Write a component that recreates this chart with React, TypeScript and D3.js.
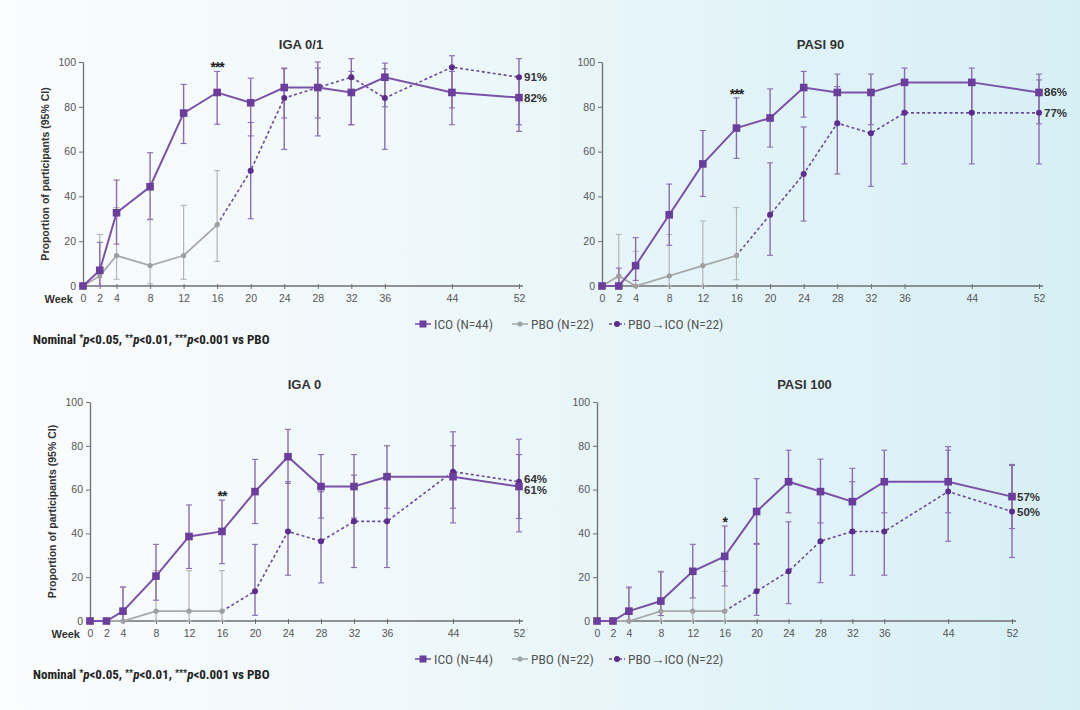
import React, { useEffect, useRef } from 'react';
import * as d3 from 'd3';

// weeks on the x axis
const weeks = [0, 2, 4, 8, 12, 16, 20, 24, 28, 32, 36, 44, 52];
const pboWeeks = [0, 2, 4, 8, 12, 16];
const switchWeeks = [20, 24, 28, 32, 36, 44, 52];
const yTicks = [0, 20, 40, 60, 80, 100];

const titles = ['IGA 0/1', 'PASI 90', 'IGA 0', 'PASI 100'];
const stars = ['***', '***', '**', '*'];
const icoEndLabels = ['82%', '86%', '61%', '57%'];
const switchEndLabels = ['91%', '77%', '64%', '50%'];

// ICO (N=44)
const icoIga01 = [0, 7, 32.7, 44.3, 77.2, 86.4, 81.8, 88.6, 88.6, 86.4, 93.2, 86.4, 84.1];
const icoIga01Lo = [0, 0, 18.7, 29.8, 63.6, 72.2, 67, 75, 75, 72, 80, 72, 69];
const icoIga01Hi = [0, 19.5, 47.3, 59.5, 90, 95.8, 92.8, 97.3, 97.3, 95.8, 99.5, 95.8, 93];
const icoPasi90 = [0, 0, 9.1, 31.8, 54.5, 70.5, 75, 88.6, 86.4, 86.4, 90.9, 90.9, 86.4];
const icoPasi90Lo = [0, 0, 2.5, 18.2, 40, 57, 62, 75.4, 72, 72, 78, 78, 72.4];
const icoPasi90Hi = [0, 8, 21.6, 45.5, 69.4, 84, 88, 95.8, 94.6, 94.6, 97.3, 97.3, 94.6];
const icoIga0 = [0, 0, 4.5, 20.5, 38.6, 40.9, 59.1, 75, 61.4, 61.4, 65.9, 65.9, 61.4];
const icoIga0Lo = [0, 0, 0, 9.5, 24, 26.2, 44.5, 62.8, 47, 47, 51.5, 51.5, 46.8];
const icoIga0Hi = [0, 0, 15.5, 35, 53, 55.2, 73.8, 87.5, 76, 76, 80, 80, 76];
const icoPasi100 = [0, 0, 4.5, 9.1, 22.7, 29.5, 50, 63.6, 59.1, 54.5, 63.6, 63.6, 56.8];
const icoPasi100Lo = [0, 0, 0, 2.5, 10.5, 16, 35.4, 49.4, 44.8, 40, 49.4, 49.4, 42.2];
const icoPasi100Hi = [0, 0, 15.5, 22.4, 35, 43.4, 65, 78, 73.9, 69.7, 78, 78, 71.5];

// PBO (N=22), weeks 0-16
const pboIga01 = [0, 4.5, 13.6, 9.1, 13.6, 27.3];
const pboIga01Lo = [0, 0, 3, 1, 3, 11];
const pboIga01Hi = [0, 23, 35, 29.5, 36, 51.5];
const pboPasi90 = [0, 4.5, 0, 4.5, 9.1, 13.6];
const pboPasi90Lo = [0, 0, 0, 0, 0, 2.8];
const pboPasi90Hi = [0, 23, 15.5, 23, 29, 35];
const pboIga0 = [0, 0, 0, 4.5, 4.5, 4.5];
const pboIga0Lo = [0, 0, 0, 0, 0, 0];
const pboIga0Hi = [0, 0, 15.5, 23, 23, 23];
const pboPasi100 = [0, 0, 0, 4.5, 4.5, 4.5];
const pboPasi100Lo = [0, 0, 0, 0, 0, 0];
const pboPasi100Hi = [0, 0, 15, 22.7, 22.7, 22.7];

// PBO→ICO (N=22), weeks 20-52
const swIga01 = [51.5, 83.9, 88.6, 93.2, 83.9, 97.7, 93.2];
const swIga01Lo = [30, 61, 67, 72, 61, 79.5, 72];
const swIga01Hi = [73, 97, 100, 101.5, 97, 102.8, 101.5];
const swPasi90 = [31.8, 50, 72.7, 68.2, 77.3, 77.3, 77.3];
const swPasi90Lo = [13.7, 29, 50, 44.5, 54.5, 54.5, 54.5];
const swPasi90Hi = [55, 71, 89, 86, 92, 92, 92];
const swIga0 = [13.6, 40.9, 36.4, 45.5, 45.5, 68.2, 63.6];
const swIga0Lo = [2.6, 20.9, 17.4, 24.4, 24.4, 44.8, 40.7];
const swIga0Hi = [35, 63.6, 59, 66.6, 66.6, 86.4, 83];
const swPasi100 = [13.6, 22.7, 36.4, 40.9, 40.9, 59.1, 50];
const swPasi100Lo = [2.6, 7.9, 17.5, 20.9, 20.9, 36.4, 29];
const swPasi100Hi = [35, 45.3, 59, 63.6, 63.6, 79.6, 71];

const icoData = [[icoIga01, icoIga01Lo, icoIga01Hi], [icoPasi90, icoPasi90Lo, icoPasi90Hi], [icoIga0, icoIga0Lo, icoIga0Hi], [icoPasi100, icoPasi100Lo, icoPasi100Hi]];
const pboData = [[pboIga01, pboIga01Lo, pboIga01Hi], [pboPasi90, pboPasi90Lo, pboPasi90Hi], [pboIga0, pboIga0Lo, pboIga0Hi], [pboPasi100, pboPasi100Lo, pboPasi100Hi]];
const swData = [[swIga01, swIga01Lo, swIga01Hi], [swPasi90, swPasi90Lo, swPasi90Hi], [swIga0, swIga0Lo, swIga0Hi], [swPasi100, swPasi100Lo, swPasi100Hi]];

const legendLabels = ['ICO (N=44)', 'PBO (N=22)', 'PBO\u2192ICO (N=22)'];

// plot frames: left/right x, top/bottom y
const frames = [
  { x0: 83, x1: 519, top: 62, bottom: 286, left: true },
  { x0: 602, x1: 1039, top: 62, bottom: 286, left: false },
  { x0: 90, x1: 519, top: 402, bottom: 621, left: true },
  { x0: 597, x1: 1012, top: 402, bottom: 621, left: false },
];

const W = 1080;
const H = 710;
const PURPLE = '#6b3d9c';
const PURPLE_BAR = '#8a6bb0';
const GRAY = '#a9a9a9';
const FONT = '"Liberation Sans", Arial, sans-serif';
const NARROW = '"Liberation Sans Narrow", "Roboto Condensed", "Liberation Sans", sans-serif';

const App: React.FC = () => {
  const svgRef = useRef<SVGSVGElement>(null);

  useEffect(() => {
    if (!svgRef.current) return;
    const svg = d3.select(svgRef.current);
    svg.selectAll('*').remove();

    const grad = svg.append('defs').append('linearGradient').attr('id', 'bg').attr('x1', 0).attr('x2', 1).attr('y1', 0).attr('y2', 0);
    grad.append('stop').attr('offset', '0%').attr('stop-color', '#fbfcfd');
    grad.append('stop').attr('offset', '40%').attr('stop-color', '#eef8fb');
    grad.append('stop').attr('offset', '100%').attr('stop-color', '#d6eff5');
    svg.append('rect').attr('width', W).attr('height', H).attr('fill', 'url(#bg)');

    frames.forEach((f, pi) => {
      const x = d3.scaleLinear().domain([0, 52]).range([f.x0, f.x1]);
      const y = d3.scaleLinear().domain([0, 100]).range([f.bottom, f.top]);
      const g = svg.append('g');

      // title
      g.append('text')
        .attr('x', (f.x0 + f.x1) / 2)
        .attr('y', f.top - 13)
        .attr('text-anchor', 'middle')
        .attr('fill', '#333')
        .style('font-family', FONT)
        .style('font-size', '13px')
        .style('font-weight', 'bold')
        .text(titles[pi]);

      // y axis
      const ya = g.append('g')
        .attr('transform', `translate(${f.x0},0)`)
        .call(d3.axisLeft(y).tickValues(yTicks).tickSize(4).tickSizeOuter(0).tickPadding(3));
      ya.select('.domain').attr('stroke', '#6f6f6f').attr('stroke-width', 1.3);
      ya.selectAll('.tick line').attr('stroke', '#6f6f6f');
      ya.selectAll('.tick text').attr('fill', '#555').style('font-family', FONT).style('font-size', '10.5px');

      // x axis
      const xa = g.append('g')
        .attr('transform', `translate(0,${f.bottom})`)
        .call(d3.axisBottom(x).tickValues(weeks).tickSize(3).tickSizeOuter(0).tickPadding(6));
      xa.select('.domain').remove();
      xa.append('line').attr('x1', f.x0).attr('x2', x(52) + 4).attr('stroke', '#6f6f6f').attr('stroke-width', 1.3);
      xa.selectAll('.tick line').attr('stroke', '#6f6f6f').attr('y1', -2);
      xa.selectAll('.tick text').attr('fill', '#555').style('font-family', FONT).style('font-size', '10.5px');

      if (f.left) {
        g.append('text')
          .attr('x', f.x0 - 10)
          .attr('y', f.bottom + 17)
          .attr('text-anchor', 'end')
          .attr('fill', '#333')
          .style('font-family', FONT)
          .style('font-size', '11px')
          .style('font-weight', 'bold')
          .text('Week');
        g.append('text')
          .attr('transform', `translate(${f.x0 - 34},${(f.top + f.bottom) / 2}) rotate(-90)`)
          .attr('text-anchor', 'middle')
          .attr('fill', '#333')
          .style('font-family', FONT)
          .style('font-size', '10.5px')
          .style('font-weight', 'bold')
          .text('Proportion of participants (95% CI)');
      }

      const [ico, icoLo, icoHi] = icoData[pi];
      const [pbo, pboLo, pboHi] = pboData[pi];
      const [sw, swLo, swHi] = swData[pi];

      const errBars = (wk: number[], lo: number[], hi: number[], color: string, w: number) => {
        wk.forEach((d, i) => {
          if (hi[i] - lo[i] < 0.5) return;
          const cx = x(d);
          g.append('line').attr('x1', cx).attr('x2', cx).attr('y1', y(lo[i])).attr('y2', y(hi[i]))
            .attr('stroke', color).attr('stroke-width', w);
          [lo[i], hi[i]].forEach(v => {
            g.append('line').attr('x1', cx - 3).attr('x2', cx + 3).attr('y1', y(v)).attr('y2', y(v))
              .attr('stroke', color).attr('stroke-width', 1.1);
          });
        });
      };

      errBars(pboWeeks, pboLo, pboHi, '#b4b4b4', 1.2);
      errBars(switchWeeks, swLo, swHi, PURPLE_BAR, 1.4);
      errBars(weeks, icoLo, icoHi, PURPLE_BAR, 1.4);

      const line = d3.line<[number, number]>().x(d => x(d[0])).y(d => y(d[1]));

      // PBO line
      g.append('path')
        .attr('d', line(pboWeeks.map((w, i) => [w, pbo[i]] as [number, number])))
        .attr('fill', 'none').attr('stroke', GRAY).attr('stroke-width', 1.8);

      // PBO→ICO dashed, continuing from the last PBO point
      const swPts: [number, number][] = [[16, pbo[pbo.length - 1]], ...switchWeeks.map((w, i) => [w, sw[i]] as [number, number])];
      g.append('path')
        .attr('d', line(swPts))
        .attr('fill', 'none').attr('stroke', '#6a4a9a').attr('stroke-width', 1.6).attr('stroke-dasharray', '3,2.5');

      // ICO line
      g.append('path')
        .attr('d', line(weeks.map((w, i) => [w, ico[i]] as [number, number])))
        .attr('fill', 'none').attr('stroke', '#7a52a8').attr('stroke-width', 2);

      // markers
      pboWeeks.forEach((w, i) => {
        g.append('circle').attr('cx', x(w)).attr('cy', y(pbo[i])).attr('r', 2.6).attr('fill', '#9f9f9f');
      });
      switchWeeks.forEach((w, i) => {
        g.append('circle').attr('cx', x(w)).attr('cy', y(sw[i])).attr('r', 3).attr('fill', '#5b2d8e');
      });
      weeks.forEach((w, i) => {
        g.append('rect').attr('x', x(w) - 3.8).attr('y', y(ico[i]) - 3.8).attr('width', 7.6).attr('height', 7.6)
          .attr('fill', PURPLE);
      });

      // significance at week 16
      const i16 = weeks.indexOf(16);
      g.append('text')
        .attr('x', x(16))
        .attr('y', y(icoHi[i16]) + 1)
        .attr('text-anchor', 'middle')
        .attr('fill', '#222')
        .style('font-family', FONT)
        .style('font-size', '14px')
        .style('font-weight', 'bold')
        .style('letter-spacing', '-1px')
        .text(stars[pi]);

      // end labels, nudged apart if they collide
      let yIco = y(ico[ico.length - 1]);
      let ySw = y(sw[sw.length - 1]);
      if (Math.abs(yIco - ySw) < 11) {
        const mid = (yIco + ySw) / 2;
        const up = yIco < ySw ? -1 : 1;
        yIco = mid + up * 5.5;
        ySw = mid - up * 5.5;
      }
      [[yIco, icoEndLabels[pi]], [ySw, switchEndLabels[pi]]].forEach(([py, label]) => {
        g.append('text')
          .attr('x', x(52) + 5)
          .attr('y', py as number)
          .attr('dy', '0.35em')
          .attr('fill', '#333')
          .style('font-family', FONT)
          .style('font-size', '11.5px')
          .style('font-weight', 'bold')
          .text(label as string);
      });
    });

    // legends and footnotes
    [324, 659].forEach((ly, k) => {
      const lg = svg.append('g');
      const items = [
        { x: 415, marker: 'square', color: PURPLE, lineColor: '#7a52a8', dash: null },
        { x: 512, marker: 'circle', color: '#a3a3a3', lineColor: GRAY, dash: null },
        { x: 609, marker: 'dot', color: '#5b2d8e', lineColor: '#6a4a9a', dash: '3,2' },
      ];
      items.forEach((it, i) => {
        lg.append('line').attr('x1', it.x).attr('x2', it.x + 16).attr('y1', ly).attr('y2', ly)
          .attr('stroke', it.lineColor).attr('stroke-width', 1.6).attr('stroke-dasharray', it.dash);
        if (it.marker === 'square') {
          lg.append('rect').attr('x', it.x + 4.5).attr('y', ly - 3.5).attr('width', 7).attr('height', 7).attr('fill', it.color);
        } else {
          lg.append('circle').attr('cx', it.x + 8).attr('cy', ly).attr('r', it.marker === 'dot' ? 3 : 2.6).attr('fill', it.color);
        }
        lg.append('text')
          .attr('x', it.x + 19)
          .attr('y', ly)
          .attr('dy', '0.35em')
          .attr('fill', '#555')
          .style('font-family', NARROW)
          .style('font-size', '13.5px')
          .text(legendLabels[i]);
      });

      const fy = k === 0 ? 344 : 679;
      const t = svg.append('text')
        .attr('x', 33)
        .attr('y', fy)
        .attr('fill', '#222')
        .style('font-family', NARROW)
        .style('font-size', '13px')
        .style('font-weight', 'bold');
      const parts: [string, string][] = [
        ['Nominal ', 'n'], ['*', 's'], ['p', 'i'], ['<0.05, ', 'n'],
        ['**', 's'], ['p', 'i'], ['<0.01, ', 'n'],
        ['***', 's'], ['p', 'i'], ['<0.001 vs PBO', 'n'],
      ];
      parts.forEach(([s, kind]) => {
        const ts = t.append('tspan').text(s);
        if (kind === 's') ts.attr('dy', -3).style('font-size', '9px');
        if (kind === 'i') ts.attr('dy', 3).style('font-style', 'italic');
      });
    });
  }, []);

  return (
    <div style={{ position: 'absolute', left: 0, top: 0, width: W, height: H }}>
      <svg ref={svgRef} width={W} height={H} style={{ display: 'block' }} />
    </div>
  );
};

export default App;
